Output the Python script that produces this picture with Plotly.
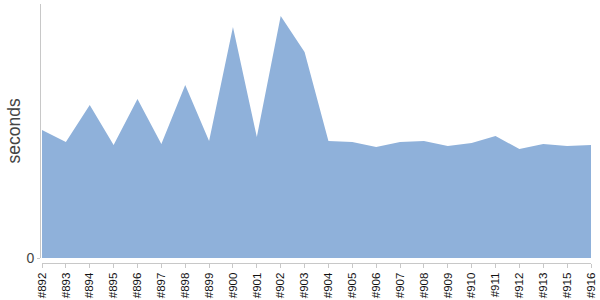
import plotly.graph_objects as go

builds = ["#892", "#893", "#894", "#895", "#896", "#897", "#898", "#899", "#900",
          "#901", "#902", "#903", "#904", "#905", "#906", "#907", "#908", "#909",
          "#910", "#911", "#912", "#913", "#915", "#916"]
seconds = [128, 116, 153, 113, 159, 114, 173, 117, 231, 121, 242, 206, 117,
           116, 111, 116, 117, 112, 115, 122, 109, 114, 112, 113]

fig = go.Figure()
fig.add_trace(go.Scatter(
    x=builds, y=seconds, mode="lines", fill="tozeroy",
    line=dict(width=0, color="rgb(143,177,218)"),
    fillcolor="rgb(143,177,218)", hoverinfo="x+y", showlegend=False,
))

W, H = 600, 300
ml, mr, mt, mb = 40, 9, 4, 37
pw = W - ml - mr
ph = H - mt - mb

fig.update_layout(
    width=W, height=H,
    margin=dict(l=ml, r=mr, t=mt, b=mb),
    plot_bgcolor="white", paper_bgcolor="white",
    font=dict(family="Liberation Sans, Arial, sans-serif"),
    xaxis=dict(
        type="category", range=[0, len(builds) - 1],
        domain=[2 / pw, 1], automargin=False,
        anchor="free", position=0,
        showline=True, linecolor="#c8c8c8", linewidth=1,
        ticks="outside", ticklen=4, tickcolor="#c8c8c8",
        tickangle=-90, tickfont=dict(size=11.5, color="#111"),
        showgrid=False, zeroline=False,
    ),
    yaxis=dict(
        range=[0, 254], domain=[5 / ph, 1], automargin=False,
        anchor="free", position=0,
        showline=True, linecolor="#c8c8c8", linewidth=1,
        tickvals=[0], ticktext=["0"], ticks="outside", ticklen=3, tickcolor="#c8c8c8",
        tickfont=dict(size=14, color="#444"),
        showgrid=False, zeroline=False,
    ),
    annotations=[dict(
        text="seconds", textangle=-90, showarrow=False,
        xref="paper", yref="paper", x=(13.5 - ml) / pw, y=(H - mb - 131) / ph,
        xanchor="center", yanchor="middle",
        font=dict(size=17.5, color="#444"),
    )],
)

fig.write_html("out.html")
